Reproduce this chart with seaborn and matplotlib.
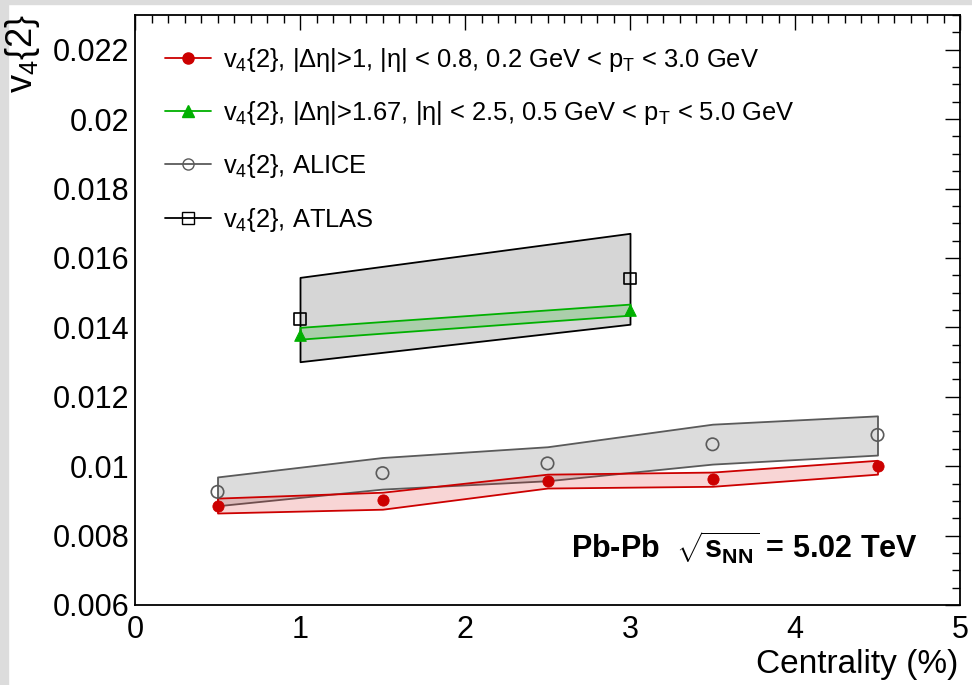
import numpy as np
import pandas as pd
import matplotlib
matplotlib.use("Agg")
import matplotlib.pyplot as plt
import seaborn as sns
from matplotlib.lines import Line2D
from matplotlib.patches import Rectangle
from matplotlib.ticker import MultipleLocator

# ---------------- data ----------------
cent5 = [0.5, 1.5, 2.5, 3.5, 4.5]
v4_red = [0.00885, 0.00902, 0.00957, 0.00963, 0.01000]
red_lo = [0.00865, 0.00876, 0.00937, 0.00942, 0.00977]
red_hi = [0.00908, 0.00925, 0.00977, 0.00983, 0.01017]

v4_alice = [0.00926, 0.00980, 0.01008, 0.01063, 0.01090]
alice_lo = [0.00886, 0.00934, 0.00958, 0.01006, 0.01032]
alice_hi = [0.00969, 0.01025, 0.01056, 0.01121, 0.01145]

cent2 = [1.0, 3.0]
v4_green = [0.01378, 0.01450]
green_lo = [0.01366, 0.01435]
green_hi = [0.01400, 0.01467]

v4_atlas = [0.01424, 0.01541]
atlas_lo = [0.01301, 0.01409]
atlas_hi = [0.01544, 0.01671]

xtick_vals = [0, 1, 2, 3, 4, 5]
ytick_vals = [0.006, 0.008, 0.010, 0.012, 0.014, 0.016, 0.018, 0.020, 0.022]
ytick_labels = ["0.006", "0.008", "0.01", "0.012", "0.014", "0.016", "0.018", "0.02", "0.022"]

labels = [
    r"v$_{4}${2}, |Δη|>1, |η| < 0.8, 0.2 GeV < p$_{\rm T}$ < 3.0 GeV",
    r"v$_{4}${2}, |Δη|>1.67, |η| < 2.5, 0.5 GeV < p$_{\rm T}$ < 5.0 GeV",
    r"v$_{4}${2}, ALICE",
    r"v$_{4}${2}, ATLAS",
]

# ---------------- style ----------------
sns.set_theme(style="white")
plt.rcParams["font.family"] = ["Liberation Sans", "DejaVu Sans"]
plt.rcParams["mathtext.fontset"] = "custom"
plt.rcParams["mathtext.rm"] = "Liberation Sans"
plt.rcParams["mathtext.it"] = "Liberation Sans:italic"
plt.rcParams["mathtext.bf"] = "Liberation Sans:bold"
plt.rcParams["text.color"] = "black"
plt.rcParams["legend.labelcolor"] = "black"

RED = "#cc0000"
GREEN = "#00b000"
ALICE_EDGE = "#5a5a5a"

fig = plt.figure(figsize=(9.72, 6.85), dpi=100)
ax = fig.add_axes([135 / 972, 1 - 605 / 685, (960 - 135) / 972, (605 - 15) / 685])

# grey canvas border (top and left)
fig.patches.append(Rectangle((0, 1 - 4 / 685), 1, 4 / 685, transform=fig.transFigure,
                             color="#dcdcdc", zorder=-1))
fig.patches.append(Rectangle((0, 0), 8 / 972, 1, transform=fig.transFigure,
                             color="#dcdcdc", zorder=-1))

df5 = pd.DataFrame({"cent": cent5, "red": v4_red, "alice": v4_alice})
df2 = pd.DataFrame({"cent": cent2, "green": v4_green, "atlas": v4_atlas})

# ATLAS band
ax.fill_between(cent2, atlas_lo, atlas_hi, facecolor="#d6d6d6", edgecolor="black",
                linewidth=1.3, zorder=1)
# green band
ax.fill_between(cent2, green_lo, green_hi, facecolor=(0.0, 0.69, 0.0, 0.2),
                edgecolor=GREEN, linewidth=1.3, zorder=2)
# ALICE band
ax.fill_between(cent5, alice_lo, alice_hi, facecolor="#dcdcdc", edgecolor=ALICE_EDGE,
                linewidth=1.3, zorder=1)
# red band
ax.fill_between(cent5, red_lo, red_hi, facecolor=(0.85, 0.1, 0.1, 0.18),
                edgecolor=RED, linewidth=1.3, zorder=2)

# markers
sns.scatterplot(data=df2, x="cent", y="atlas", marker="s", s=70, facecolor="none",
                edgecolor="black", linewidth=1.2, ax=ax, zorder=4)
sns.scatterplot(data=df2, x="cent", y="green", marker="^", s=70, color=GREEN,
                edgecolor=GREEN, ax=ax, zorder=4)
sns.scatterplot(data=df5, x="cent", y="alice", marker="o", s=80, facecolor="none",
                edgecolor=ALICE_EDGE, linewidth=1.2, ax=ax, zorder=4)
sns.scatterplot(data=df5, x="cent", y="red", marker="o", s=65, color=RED,
                edgecolor=RED, ax=ax, zorder=5)

# axes
ax.set_xlim(0, 5)
ax.set_ylim(0.006, 0.023)
ax.xaxis.set_minor_locator(MultipleLocator(0.1))
ax.yaxis.set_minor_locator(MultipleLocator(0.0005))
ax.set_yticks(ytick_vals)
ax.set_yticklabels(ytick_labels)
ax.set_xticks(xtick_vals)
ax.set_xticklabels([str(v) for v in xtick_vals])
ax.tick_params(which="both", direction="in", top=True, right=True, colors="black",
               labelsize=22, width=1.0)
ax.tick_params(which="major", length=11)
ax.tick_params(which="minor", length=6)
ax.tick_params(axis="x", pad=7)
ax.tick_params(axis="y", pad=4)
for sp in ax.spines.values():
    sp.set_color("black")
    sp.set_linewidth(1.3)

ax.set_xlabel("")
ax.set_ylabel("")
fig.text(958 / 972, 1 - 664 / 685, "Centrality (%)", ha="right", va="center", fontsize=24)
fig.text(22 / 972, 1 - 14 / 685, r"v$_{4}${2}", ha="center", va="top", rotation=90, fontsize=26)

ax.text((918 - 135) / 825, (605 - 548) / 590, r"Pb-Pb  $\sqrt{\mathbf{s}_{\mathbf{NN}}}$ = 5.02 TeV",
        transform=ax.transAxes, ha="right", va="center", fontsize=22, fontweight="bold")

handles = [
    Line2D([], [], color=RED, marker="o", markersize=8, lw=1.3),
    Line2D([], [], color=GREEN, marker="^", markersize=8, lw=1.3),
    Line2D([], [], color=ALICE_EDGE, marker="o", markersize=8, markerfacecolor="none", lw=1.3),
    Line2D([], [], color="black", marker="s", markersize=8, markerfacecolor="none", lw=1.3),
]
leg = ax.legend(handles, labels, loc="upper left", bbox_to_anchor=(0.036, 0.948), frameon=False,
                fontsize=18.4, labelspacing=0.99, handlelength=1.8, handletextpad=0.47,
                borderaxespad=0, borderpad=0)
for t in leg.get_texts():
    t.set_color("black")

fig.savefig("out.png", dpi=100, facecolor="white")
